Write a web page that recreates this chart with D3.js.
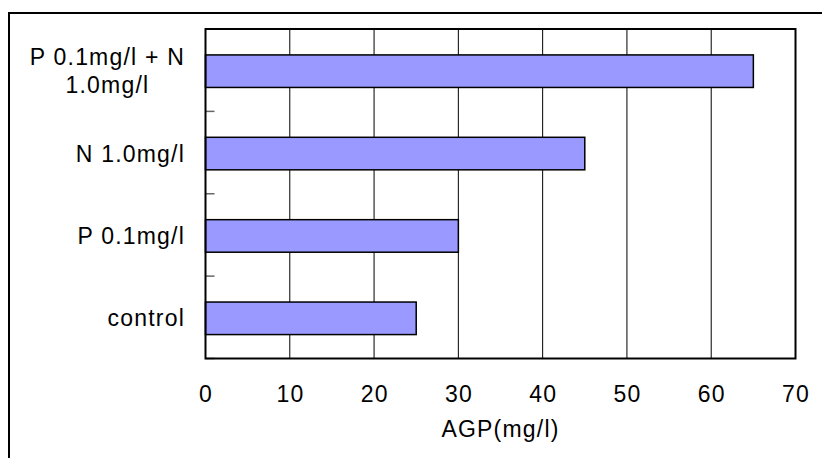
<!DOCTYPE html>
<html><head><meta charset="utf-8">
<script src="https://cdn.jsdelivr.net/npm/d3@7"></script>
<style>
html,body{margin:0;padding:0;background:#fff;}
svg{display:block;}
text{font-family:"Liberation Sans",Arial,sans-serif;fill:#000;}
</style></head>
<body><svg id="c" width="822" height="458"></svg>
<script>
const categories = [["P 0.1mg/l + N", "1.0mg/l"], ["N 1.0mg/l"], ["P 0.1mg/l"], ["control"]];
const values = [65, 45, 30, 25];
const xTicks = [0, 10, 20, 30, 40, 50, 60, 70];
const xTitle = "AGP(mg/l)";

const svg = d3.select("#c");
const W = 822, H = 458;
const plot = {left: 205.5, right: 795.5, top: 29, bottom: 358.5};
const fs = 23, ls = 1.2;

svg.append("rect").attr("width", W).attr("height", H).attr("fill", "#fff");
// outer frame (runs past the right and bottom edges)
svg.append("rect").attr("x", 9).attr("y", 13).attr("width", 840).attr("height", 470)
  .attr("fill", "none").attr("stroke", "#000").attr("stroke-width", 2);

const x = d3.scaleLinear().domain([0, 70]).range([plot.left, plot.right]);
const keys = categories.map((c, i) => i);
const y = d3.scaleBand().domain(keys).range([plot.top, plot.bottom]).paddingInner(0.605).paddingOuter(0.3025);

// gridlines
svg.append("g").selectAll("line").data(xTicks.filter(t => t > 0 && t < 70)).join("line")
  .attr("x1", d => x(d)).attr("x2", d => x(d))
  .attr("y1", plot.top).attr("y2", plot.bottom)
  .attr("stroke", "#000").attr("stroke-width", 1);

// y tick marks at category boundaries (inside)
const bounds = d3.range(categories.length + 1).map(i => plot.top + y.step() * i);
svg.append("g").selectAll("line").data(bounds).join("line")
  .attr("x1", plot.left).attr("x2", plot.left + 9)
  .attr("y1", d => d).attr("y2", d => d)
  .attr("stroke", "#666").attr("stroke-width", 1.5);

// bars
svg.append("g").selectAll("rect").data(values).join("rect")
  .attr("x", x(0))
  .attr("y", (d, i) => y(i) + 1)
  .attr("width", d => x(d) - x(0))
  .attr("height", y.bandwidth())
  .attr("fill", "#9999ff")
  .attr("stroke", "#000").attr("stroke-width", 1.5);

// plot frame
svg.append("rect").attr("x", plot.left).attr("y", plot.top)
  .attr("width", plot.right - plot.left).attr("height", plot.bottom - plot.top)
  .attr("fill", "none").attr("stroke", "#000").attr("stroke-width", 2);

// x tick labels
svg.append("g").selectAll("text").data(xTicks).join("text")
  .attr("x", d => x(d) + ls / 2).attr("y", 394)
  .attr("text-anchor", "middle").attr("dominant-baseline", "central")
  .style("font-size", fs + "px").style("letter-spacing", ls + "px")
  .text(d => d);

// x title
svg.append("text").attr("x", (plot.left + plot.right) / 2).attr("y", 429)
  .attr("text-anchor", "middle").attr("dominant-baseline", "central")
  .style("font-size", fs + "px").style("letter-spacing", ls + "px")
  .text(xTitle);

// category labels
const labelRight = 185;
const lineH = 28;
categories.forEach((lines, i) => {
  const cy = y(i) + y.bandwidth() / 2 + 1;
  const g = svg.append("g");
  const texts = lines.map((ln, k) => g.append("text")
    .attr("y", cy + (k - (lines.length - 1) / 2) * lineH)
    .attr("dominant-baseline", "central")
    .attr("text-anchor", "middle")
    .style("font-size", fs + "px").style("letter-spacing", ls + "px")
    .text(ln));
  const maxW = d3.max(texts, t => t.node().getComputedTextLength());
  texts.forEach(t => t.attr("x", labelRight - maxW / 2));
});
</script></body></html>
